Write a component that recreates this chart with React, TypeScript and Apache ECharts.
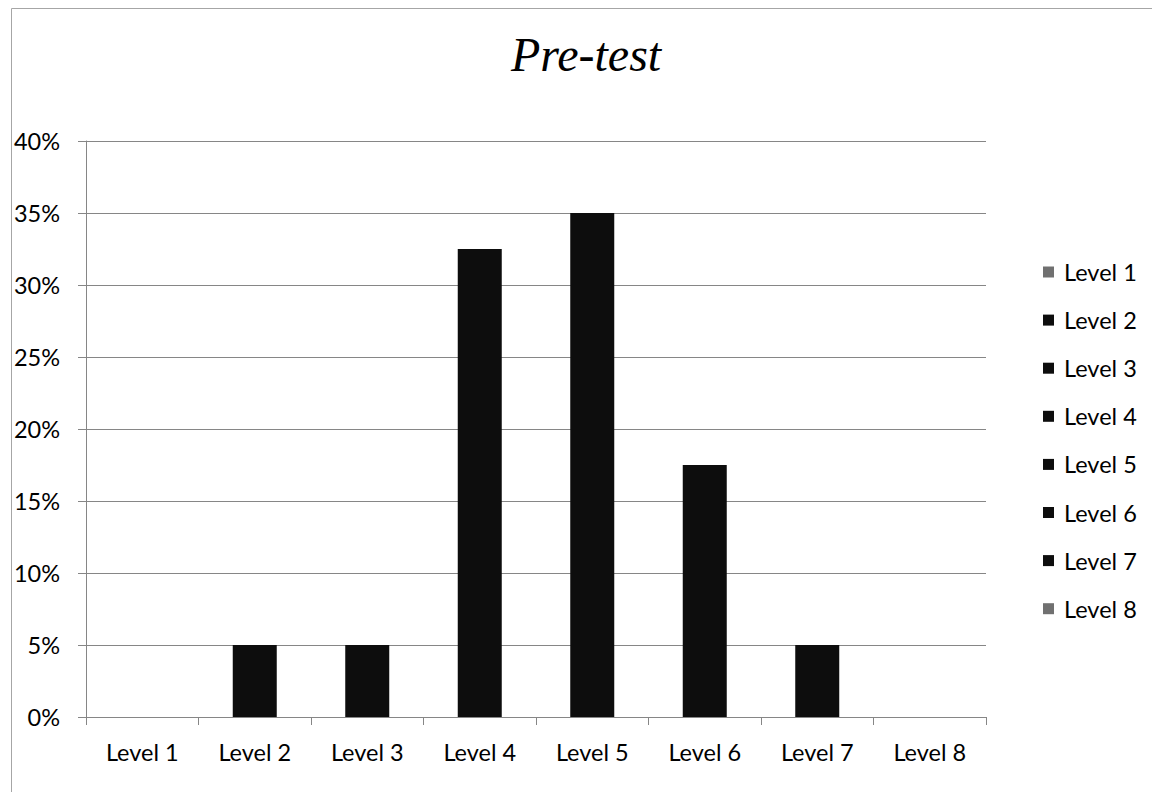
import React, { useEffect, useRef } from "react";
import * as echarts from "echarts";

const categories = ["Level 1", "Level 2", "Level 3", "Level 4", "Level 5", "Level 6", "Level 7", "Level 8"];
const values = [0, 0.05, 0.05, 0.325, 0.35, 0.175, 0.05, 0];
const legendColors = ["#707070", "#0d0d0d", "#0d0d0d", "#0d0d0d", "#0d0d0d", "#0d0d0d", "#0d0d0d", "#707070"];
const barColor = "#0d0d0d";
const FONT = "Lato, 'Open Sans', sans-serif";

export default function App() {
  const ref = useRef<HTMLDivElement>(null);
  useEffect(() => {
    if (!ref.current) return;
    const chart = echarts.init(ref.current, undefined, { renderer: "svg" });
    const series = categories.map((name, i) => ({
      name,
      type: "bar",
      stack: "all",
      barWidth: 44,
      itemStyle: { color: i === 0 || i === categories.length - 1 ? legendColors[i] : barColor },
      data: categories.map((_, j) => (j === i ? values[i] : "-")),
    }));
    chart.setOption({
      animation: false,
      backgroundColor: "#ffffff",
      color: legendColors,
      title: {
        text: "Pre-test",
        left: 511,
        top: 30,
        padding: 0,
        textStyle: {
          fontFamily: "'Liberation Serif', 'DejaVu Serif', serif",
          fontStyle: "italic",
          fontWeight: "normal",
          fontSize: 48,
          color: "#000",
        },
      },
      legend: {
        orient: "vertical",
        left: 1043,
        top: 260,
        padding: 0,
        icon: "rect",
        itemWidth: 11,
        itemHeight: 11,
        itemGap: 24.1,
        textStyle: { fontFamily: FONT, fontSize: 23.5, color: "#000", padding: [0, 0, 0, 5] },
        data: categories.map((name, i) => ({ name, itemStyle: { color: legendColors[i] } })),
      },
      grid: { left: 86, right: 166, top: 141, bottom: 75, containLabel: false },
      xAxis: {
        type: "category",
        data: categories,
        axisLine: { lineStyle: { color: "#868686", width: 1 } },
        axisTick: { show: true, length: 8, alignWithLabel: false, lineStyle: { color: "#868686" } },
        axisLabel: { fontFamily: FONT, fontSize: 23.5, color: "#000", margin: 23 },
        splitLine: { show: false },
      },
      yAxis: {
        type: "value",
        min: 0,
        max: 0.4,
        interval: 0.05,
        axisLine: { show: true, lineStyle: { color: "#868686", width: 1 } },
        axisTick: { show: true, length: 8, lineStyle: { color: "#868686" } },
        axisLabel: {
          fontFamily: FONT,
          fontSize: 23.5,
          color: "#000",
          margin: 26,
          formatter: (v: number) => `${Math.round(v * 100)}%`,
        },
        splitLine: { show: true, lineStyle: { color: "#868686", width: 1 } },
      },
      graphic: [
        { type: "line", shape: { x1: 11.5, y1: 8.5, x2: 1152, y2: 8.5 }, style: { stroke: "#a6a6a6", lineWidth: 1 } },
        { type: "line", shape: { x1: 11.5, y1: 8.5, x2: 11.5, y2: 792 }, style: { stroke: "#a6a6a6", lineWidth: 1 } },
      ],
      series,
    });
    return () => chart.dispose();
  }, []);
  return (
    <div
      ref={ref}
      style={{ position: "fixed", left: 0, top: 0, width: 1152, height: 792, background: "#fff" }}
    />
  );
}
